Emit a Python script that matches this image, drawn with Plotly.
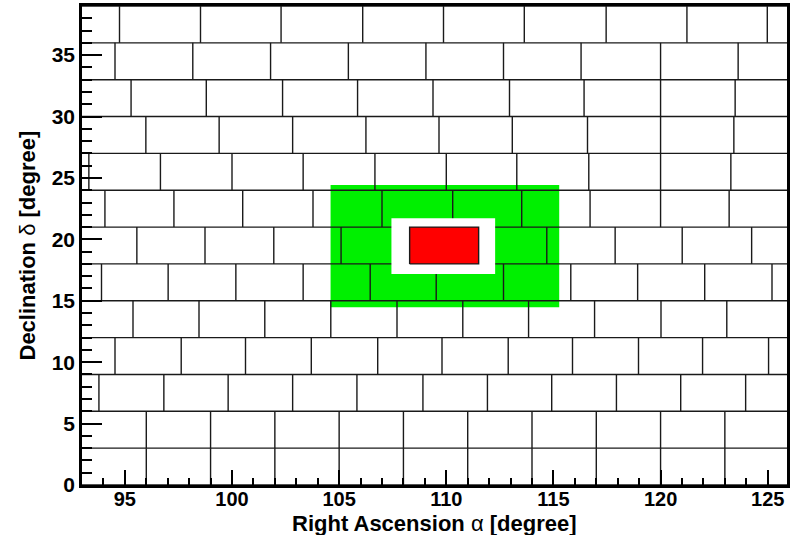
import plotly.graph_objects as go

# ---- data ----
ra_range = [93.0, 125.9]
dec_range = [0.0, 39.0]

row_dec_low = [0, 3, 6, 9, 12, 15, 18, 21, 24, 27, 30, 33, 36]
row_height = 3.0

row_0 = [96, 99, 102, 105, 108, 111, 114, 117, 120, 123]
row_3 = [96, 99, 102, 105, 108, 111, 114, 117, 120, 123]
row_6 = [93.79, 96.82, 99.82, 102.83, 105.83, 108.91, 111.92, 114.92, 117.94, 120.94, 123.97]
row_9 = [94.54, 97.63, 100.63, 103.70, 106.80, 109.80, 112.89, 115.89, 118.97, 121.96, 125.04]
row_12 = [95.38, 98.46, 101.53, 104.61, 107.70, 110.77, 113.84, 116.92, 120.02, 123.09]
row_15 = [93.91, 97.02, 100.18, 103.32, 106.45, 109.53, 112.67, 115.81, 118.93, 122.06, 125.20]
row_18 = [95.56, 98.74, 101.95, 105.09, 108.29, 111.51, 114.69, 117.88, 121.01, 124.25]
row_21 = [94.07, 97.29, 100.50, 103.78, 107.00, 110.30, 113.52, 116.71, 120.00, 123.20]
row_24 = [93.32, 96.66, 100.00, 103.32, 106.67, 110.00, 113.29, 116.65, 120.00, 123.28]
row_27 = [95.98, 99.40, 102.83, 106.25, 109.66, 113.08, 116.59, 120.00, 123.42]
row_30 = [95.29, 98.80, 102.36, 105.86, 109.38, 112.95, 116.43, 120.00, 123.48]
row_33 = [94.54, 98.17, 101.80, 105.43, 109.05, 112.67, 116.29, 120.00, 123.62]
row_36 = [94.75, 98.53, 102.29, 106.10, 109.87, 113.64, 117.46, 121.23, 124.98]

row_boundaries = [row_0, row_3, row_6, row_9, row_12, row_15, row_18,
                  row_21, row_24, row_27, row_30, row_33, row_36]

green_ra = [104.6, 115.27]
green_dec = [14.47, 24.43]
white_ra = [107.44, 112.28]
white_dec = [17.18, 21.72]
red_ra = [108.29, 111.51]
red_dec = [18.0, 21.0]

x_ticks = [95, 100, 105, 110, 115, 120, 125]
y_ticks = [0, 5, 10, 15, 20, 25, 30, 35]

x_title = "<b>Right Ascension </b>α<b> [degree]</b>"
y_title = "<b>Declination </b>δ<b> [degree]</b>"


def rect(xr, yr):
    return ([xr[0], xr[1], xr[1], xr[0], xr[0]],
            [yr[0], yr[0], yr[1], yr[1], yr[0]])


# grid segments
gx, gy = [], []
for k in range(len(row_dec_low) + 1):
    d = row_dec_low[0] + k * row_height
    gx += [ra_range[0], ra_range[1], None]
    gy += [d, d, None]
for d0, bounds in zip(row_dec_low, row_boundaries):
    for b in bounds:
        gx += [b, b, None]
        gy += [d0, d0 + row_height, None]

fig = go.Figure()
gxr, gyr = rect(green_ra, green_dec)
fig.add_trace(go.Scatter(x=gxr, y=gyr, fill="toself", fillcolor="#00f000",
                         mode="none", hoverinfo="skip", showlegend=False))
fig.add_trace(go.Scatter(x=gx, y=gy, mode="lines",
                         line=dict(color="#1a1a1a", width=1.4),
                         hoverinfo="skip", showlegend=False))
wxr, wyr = rect(white_ra, white_dec)
fig.add_trace(go.Scatter(x=wxr, y=wyr, fill="toself", fillcolor="white",
                         mode="none", hoverinfo="skip", showlegend=False))
rxr, ryr = rect(red_ra, red_dec)
fig.add_trace(go.Scatter(x=rxr, y=ryr, fill="toself", fillcolor="#ff0000",
                         mode="lines", line=dict(color="#1a1a1a", width=1.4),
                         hoverinfo="skip", showlegend=False))

font_family = "Liberation Sans, Arial, Helvetica, sans-serif"

fig.update_layout(
    width=795, height=535,
    margin=dict(l=82, r=8, t=6, b=50),
    paper_bgcolor="white", plot_bgcolor="white",
    font=dict(family=font_family, color="black"),
    showlegend=False,
    annotations=[
        dict(text=x_title, xref="paper", yref="paper", x=0.5, y=-0.081,
             xanchor="center", yanchor="middle", showarrow=False,
             font=dict(size=22, family=font_family, color="black")),
        dict(text=y_title, xref="paper", yref="paper", x=-0.078, y=0.5,
             xanchor="center", yanchor="middle", showarrow=False, textangle=-90,
             font=dict(size=22, family=font_family, color="black")),
    ],
)
fig.update_xaxes(
    range=ra_range, showgrid=False, zeroline=False, automargin=False,
    showline=True, linecolor="black", linewidth=2.5, mirror=True,
    tickmode="array", tickvals=x_ticks, ticktext=[str(v) for v in x_ticks],
    ticks="inside", ticklen=15, tickwidth=1.5, tickcolor="black",
    ticklabelstandoff=-6,
    minor=dict(dtick=1, tick0=0, ticks="inside", ticklen=7, tickwidth=1.5, tickcolor="black"),
    tickfont=dict(size=20, family=font_family, weight="bold"),
)
fig.update_yaxes(
    range=dec_range, showgrid=False, zeroline=False, automargin=False,
    showline=True, linecolor="black", linewidth=2.5, mirror=True,
    tickmode="array", tickvals=y_ticks, ticktext=[str(v) for v in y_ticks],
    ticks="inside", ticklen=20, tickwidth=1.5, tickcolor="black",
    minor=dict(dtick=1, tick0=0, ticks="inside", ticklen=10, tickwidth=1.5, tickcolor="black"),
    tickfont=dict(size=21, family=font_family, weight="bold"),
)

fig.write_html("out.html", config={"displayModeBar": False},
               post_script="document.body.style.margin='0';document.body.style.padding='0';")
